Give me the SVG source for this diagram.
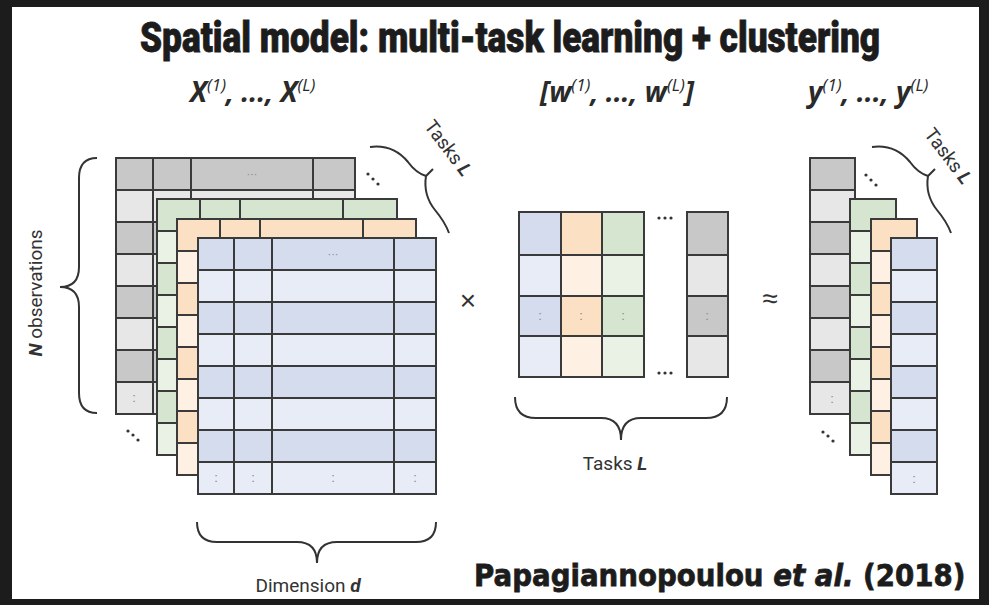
<svg xmlns="http://www.w3.org/2000/svg" width="989" height="605" viewBox="0 0 989 605">
<style>
.c{stroke:#3a3a3a;stroke-width:2}
.ln{stroke:#3a3a3a;stroke-width:2;fill:none}
.gD{fill:#c8c8c8}.gL{fill:#e7e7e7}
.nD{fill:#d5e5cf}.nL{fill:#eaf2e6}
.oD{fill:#fbe0c3}.oL{fill:#fef1e4}
.bD{fill:#d4dcee}.bL{fill:#e7ecf7}
.hd{font-family:"Liberation Sans",sans-serif;font-size:11px;fill:#8a8a8a;text-anchor:middle}
.vd{font-family:"Liberation Sans",sans-serif;font-size:13px;fill:#8a8a8a;text-anchor:middle}
.dd{fill:#333}
.br{fill:none;stroke:#333;stroke-width:2}
.lab{font-family:"Open Sans","Liberation Sans",sans-serif;font-size:28px;font-weight:bold;font-style:italic;fill:#2a2a2a}
.sup{font-size:17px;font-weight:normal}
.cap{font-family:Roboto,"Liberation Sans",sans-serif;font-size:19px;fill:#333}
.bi{font-weight:bold;font-style:italic}
.cit{font-family:"DejaVu Sans",sans-serif;font-weight:bold;font-size:31px;fill:#1c1c1c;stroke:#1c1c1c;stroke-width:0.8}
</style>
<rect x="0" y="0" width="989" height="605" fill="#1c1c1c"/>
<rect x="12" y="7" width="967" height="592" fill="#ffffff"/>

<g id="title" transform="translate(140,52) scale(0.72,1)">
<text x="0" y="0" textLength="1028" lengthAdjust="spacingAndGlyphs" font-family="Roboto,'Liberation Sans',sans-serif" font-weight="900" font-size="42" fill="#1c1c1c" stroke="#1c1c1c" stroke-width="0.8">Spatial model: multi-task learning + clustering</text>
</g>

<g id="labels">
<text class="lab" x="190" y="102">X<tspan class="sup" dy="-11">(1)</tspan><tspan dy="11">, ..., X</tspan><tspan class="sup" dy="-11">(L)</tspan></text>
<text class="lab" x="540" y="102">[w<tspan class="sup" dy="-11">(1)</tspan><tspan dy="11">, ..., w</tspan><tspan class="sup" dy="-11">(L)</tspan><tspan dy="11">]</tspan></text>
<text class="lab" x="808" y="102">y<tspan class="sup" dy="-11">(1)</tspan><tspan dy="11">, ..., y</tspan><tspan class="sup" dy="-11">(L)</tspan></text>
</g>

<g id="X-gray">
<rect class="c gD" x="116" y="158" width="239" height="32"/>
<rect class="c gL" x="116" y="190" width="239" height="32"/>
<rect class="c gD" x="116" y="222" width="239" height="32"/>
<rect class="c gL" x="116" y="254" width="239" height="32"/>
<rect class="c gD" x="116" y="286" width="239" height="32"/>
<rect class="c gL" x="116" y="318" width="239" height="32"/>
<rect class="c gD" x="116" y="350" width="239" height="32"/>
<rect class="c gL" x="116" y="382" width="239" height="32"/>
<path class="ln" d="M153 158V414M191 158V414M313 158V414"/>
<text class="hd" x="252" y="178">···</text>
<text class="vd" x="134" y="402">:</text>
</g>
<g id="X-green">
<rect class="c nD" x="157" y="199" width="240" height="32"/>
<rect class="c nL" x="157" y="231" width="240" height="32"/>
<rect class="c nD" x="157" y="263" width="240" height="32"/>
<rect class="c nL" x="157" y="295" width="240" height="32"/>
<rect class="c nD" x="157" y="327" width="240" height="32"/>
<rect class="c nL" x="157" y="359" width="240" height="32"/>
<rect class="c nD" x="157" y="391" width="240" height="32"/>
<rect class="c nL" x="157" y="423" width="240" height="32"/>
<path class="ln" d="M200 199V455M240 199V455M343 199V455"/>
</g>
<g id="X-orange">
<rect class="c oD" x="177" y="219" width="239" height="32"/>
<rect class="c oL" x="177" y="251" width="239" height="32"/>
<rect class="c oD" x="177" y="283" width="239" height="32"/>
<rect class="c oL" x="177" y="315" width="239" height="32"/>
<rect class="c oD" x="177" y="347" width="239" height="32"/>
<rect class="c oL" x="177" y="379" width="239" height="32"/>
<rect class="c oD" x="177" y="411" width="239" height="32"/>
<rect class="c oL" x="177" y="443" width="239" height="32"/>
<path class="ln" d="M220 219V475M260 219V475M363 219V475"/>
</g>
<g id="X-blue">
<rect class="c bD" x="198" y="238" width="238" height="32"/>
<rect class="c bL" x="198" y="270" width="238" height="32"/>
<rect class="c bD" x="198" y="302" width="238" height="32"/>
<rect class="c bL" x="198" y="334" width="238" height="32"/>
<rect class="c bD" x="198" y="366" width="238" height="32"/>
<rect class="c bL" x="198" y="398" width="238" height="32"/>
<rect class="c bD" x="198" y="430" width="238" height="32"/>
<rect class="c bL" x="198" y="462" width="238" height="32"/>
<path class="ln" d="M234 238V494M272 238V494M394 238V494"/>
<text class="hd" x="333" y="258">···</text>
<text class="vd" x="216" y="482">:</text>
<text class="vd" x="253" y="482">:</text>
<text class="vd" x="333" y="482">:</text>
<text class="vd" x="415" y="482">:</text>
</g>
<g id="X-dots">
<circle class="dd" cx="368" cy="174" r="1.6"/><circle class="dd" cx="373" cy="179" r="1.6"/><circle class="dd" cx="378" cy="184" r="1.6"/>
<circle class="dd" cx="128" cy="431" r="1.6"/><circle class="dd" cx="133" cy="435" r="1.6"/><circle class="dd" cx="138" cy="440" r="1.6"/>
</g>

<g id="times"><text x="468" y="310" font-family="'Liberation Sans',sans-serif" font-size="28" fill="#333" text-anchor="middle">×</text></g>

<g id="W-matrix">
<rect class="c bD" x="519" y="212" width="42" height="43"/>
<rect class="c bL" x="519" y="255" width="42" height="41"/>
<rect class="c bD" x="519" y="296" width="42" height="40"/>
<rect class="c bL" x="519" y="336" width="42" height="41"/>
<rect class="c oD" x="561" y="212" width="41" height="43"/>
<rect class="c oL" x="561" y="255" width="41" height="41"/>
<rect class="c oD" x="561" y="296" width="41" height="40"/>
<rect class="c oL" x="561" y="336" width="41" height="41"/>
<rect class="c nD" x="602" y="212" width="42" height="43"/>
<rect class="c nL" x="602" y="255" width="42" height="41"/>
<rect class="c nD" x="602" y="296" width="42" height="40"/>
<rect class="c nL" x="602" y="336" width="42" height="41"/>
<rect class="c gD" x="687" y="212" width="41" height="43"/>
<rect class="c gL" x="687" y="255" width="41" height="41"/>
<rect class="c gD" x="687" y="296" width="41" height="40"/>
<rect class="c gL" x="687" y="336" width="41" height="41"/>
<text class="vd" x="540" y="320">:</text>
<text class="vd" x="581" y="320">:</text>
<text class="vd" x="623" y="320">:</text>
<text class="vd" x="707" y="320">:</text>
<circle class="dd" cx="659" cy="218" r="1.6"/><circle class="dd" cx="665" cy="218" r="1.6"/><circle class="dd" cx="671" cy="218" r="1.6"/>
<circle class="dd" cx="659" cy="373" r="1.6"/><circle class="dd" cx="665" cy="373" r="1.6"/><circle class="dd" cx="671" cy="373" r="1.6"/>
</g>

<g id="approx"><text x="770" y="308" font-family="'Liberation Sans',sans-serif" font-size="28" fill="#333" text-anchor="middle">≈</text></g>

<g id="y-gray">
<rect class="c gD" x="810" y="158" width="45" height="32"/>
<rect class="c gL" x="810" y="190" width="45" height="32"/>
<rect class="c gD" x="810" y="222" width="45" height="32"/>
<rect class="c gL" x="810" y="254" width="45" height="32"/>
<rect class="c gD" x="810" y="286" width="45" height="32"/>
<rect class="c gL" x="810" y="318" width="45" height="32"/>
<rect class="c gD" x="810" y="350" width="45" height="32"/>
<rect class="c gL" x="810" y="382" width="45" height="32"/>
<text class="vd" x="832" y="403">:</text>
</g>
<g id="y-green">
<rect class="c nD" x="850" y="199" width="46" height="32"/>
<rect class="c nL" x="850" y="231" width="46" height="32"/>
<rect class="c nD" x="850" y="263" width="46" height="32"/>
<rect class="c nL" x="850" y="295" width="46" height="32"/>
<rect class="c nD" x="850" y="327" width="46" height="32"/>
<rect class="c nL" x="850" y="359" width="46" height="32"/>
<rect class="c nD" x="850" y="391" width="46" height="32"/>
<rect class="c nL" x="850" y="423" width="46" height="32"/>
</g>
<g id="y-orange">
<rect class="c oD" x="871" y="219" width="46" height="32"/>
<rect class="c oL" x="871" y="251" width="46" height="32"/>
<rect class="c oD" x="871" y="283" width="46" height="32"/>
<rect class="c oL" x="871" y="315" width="46" height="32"/>
<rect class="c oD" x="871" y="347" width="46" height="32"/>
<rect class="c oL" x="871" y="379" width="46" height="32"/>
<rect class="c oD" x="871" y="411" width="46" height="32"/>
<rect class="c oL" x="871" y="443" width="46" height="32"/>
</g>
<g id="y-blue">
<rect class="c bD" x="891" y="238" width="46" height="32"/>
<rect class="c bL" x="891" y="270" width="46" height="32"/>
<rect class="c bD" x="891" y="302" width="46" height="32"/>
<rect class="c bL" x="891" y="334" width="46" height="32"/>
<rect class="c bD" x="891" y="366" width="46" height="32"/>
<rect class="c bL" x="891" y="398" width="46" height="32"/>
<rect class="c bD" x="891" y="430" width="46" height="32"/>
<rect class="c bL" x="891" y="462" width="46" height="32"/>
<text class="vd" x="914" y="483">:</text>
</g>
<g id="y-dots">
<circle class="dd" cx="866" cy="175" r="1.6"/><circle class="dd" cx="871" cy="180" r="1.6"/><circle class="dd" cx="876" cy="185" r="1.6"/>
<circle class="dd" cx="823" cy="432" r="1.6"/><circle class="dd" cx="828" cy="436" r="1.6"/><circle class="dd" cx="833" cy="441" r="1.6"/>
</g>

<g id="braces">
<path class="br" d="M97 158Q79 158 79 178L79 267Q79 287 60 287M97 413Q79 413 79 393L79 307Q79 287 60 287"/>
<path class="br" d="M197 522Q197 542 217 542L297 542Q317 542 317 563M436 522Q436 542 416 542L337 542Q317 542 317 563"/>
<path class="br" d="M515 397Q515 418 536 418L601 418Q621 418 621 440M727 397Q727 418 706 418L641 418Q621 418 621 440"/>
<path class="br" d="M872 147Q895 144 910 162Q918 173 928 176L935 169M928 176Q925 195 937 210Q947 222 951 233"/>
<path class="br" d="M370 147Q393 144 408 162Q416 173 426 176L433 169M426 176Q423 195 435 210Q445 222 449 233"/>
</g>

<g id="brace-labels">
<text class="cap" font-size="20" transform="translate(42,293) rotate(-90)" text-anchor="middle"><tspan class="bi">N</tspan> observations</text>
<text class="cap" x="308" y="592" text-anchor="middle">Dimension <tspan class="bi">d</tspan></text>
<text class="cap" x="615" y="470" text-anchor="middle">Tasks <tspan class="bi">L</tspan></text>
<text class="cap" font-size="16" transform="translate(443,152) rotate(53)" text-anchor="middle">Tasks <tspan class="bi">L</tspan></text>
<text class="cap" font-size="16" transform="translate(943,160) rotate(53)" text-anchor="middle">Tasks <tspan class="bi">L</tspan></text>
</g>

<g id="citation" transform="translate(474,586) scale(0.85,1)">
<text class="cit" x="0" y="0" textLength="578" lengthAdjust="spacingAndGlyphs">Papagiannopoulou <tspan font-style="italic">et al.</tspan> (2018)</text>
</g>
</svg>
